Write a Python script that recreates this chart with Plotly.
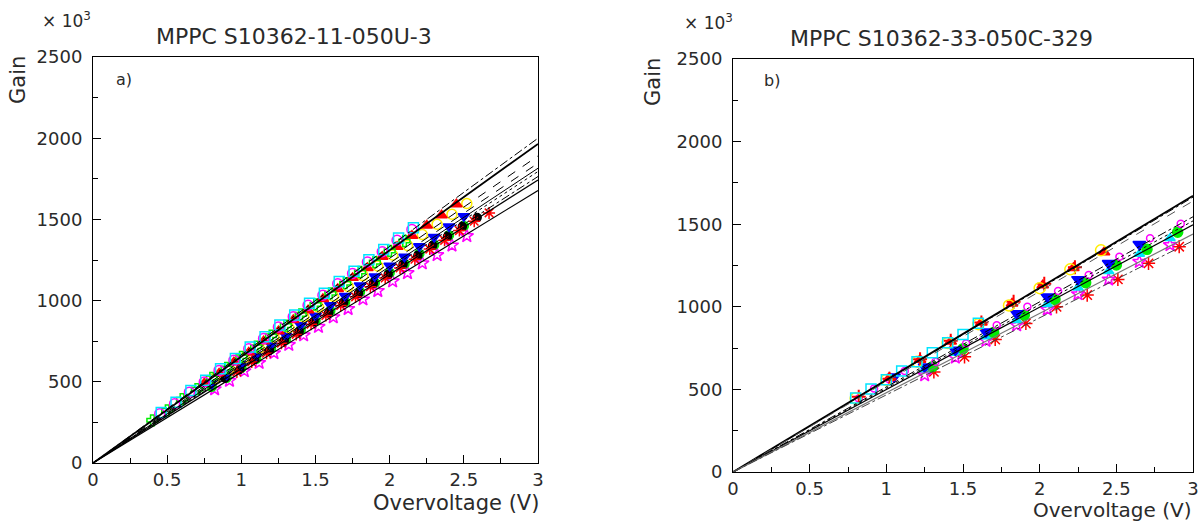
import plotly.graph_objects as go

W, H = 1198, 521
FONT = "DejaVu Sans"
TXT = "#2a2a2a"

# ---------------- data: panel a) MPPC S10362-11-050U-3 ----------------
a_line_end = [2000, 1965, 1891, 1846, 1815, 1795, 1764, 1743, 1678]   # gain (x10^3) of fit lines at 3 V
a_line_dash = ["dashdot", "solid", "dash", "dash", "solid", "dot", "dashdot", "solid", "solid"]
a_line_width = [1, 1.8, 1, 1, 1, 1, 1, 1.2, 1.2]

a_cyan_sq_x = [0.46, 0.56, 0.66, 0.76, 0.86, 0.96, 1.06, 1.16, 1.26, 1.36, 1.46, 1.56, 1.66, 1.76, 1.86, 1.96, 2.06, 2.16]
a_cyan_sq_y = [311, 374, 446, 510, 580, 643, 714, 778, 849, 912, 983, 1046, 1118, 1181, 1252, 1315, 1386, 1449]
a_mag_circ_x = [0.45, 0.55, 0.65, 0.75, 0.85, 0.95, 1.05, 1.15, 1.25, 1.35, 1.45, 1.55, 1.65, 1.75, 1.85, 1.95, 2.05, 2.15]
a_mag_circ_y = [303, 365, 436, 499, 570, 633, 703, 766, 837, 900, 971, 1033, 1104, 1167, 1238, 1301, 1371, 1438]
a_grn_cross_x = [0.40, 0.50, 0.60, 0.70, 0.80, 0.90, 1.00, 1.10, 1.20, 1.30, 1.40, 1.50, 1.60, 1.70, 1.80, 1.90, 2.00, 2.10]
a_grn_cross_y = [263, 324, 393, 455, 524, 585, 654, 716, 784, 846, 915, 976, 1045, 1107, 1176, 1237, 1306, 1367]
a_red_tri_x = [0.75, 0.85, 0.95, 1.05, 1.15, 1.25, 1.35, 1.45, 1.55, 1.65, 1.75, 1.85, 1.95, 2.05, 2.15, 2.25, 2.35, 2.45]
a_red_tri_y = [490, 551, 620, 681, 750, 811, 880, 941, 1010, 1071, 1140, 1201, 1270, 1331, 1400, 1463, 1525, 1594]
a_yel_circ_x = [0.82, 0.92, 1.02, 1.12, 1.22, 1.32, 1.42, 1.52, 1.62, 1.72, 1.82, 1.92, 2.02, 2.12, 2.22, 2.32, 2.42, 2.52]
a_yel_circ_y = [521, 580, 648, 707, 774, 833, 901, 960, 1027, 1087, 1154, 1213, 1281, 1340, 1407, 1470, 1532, 1598]
a_blue_tri_x = [0.80, 0.90, 1.00, 1.10, 1.20, 1.30, 1.40, 1.50, 1.60, 1.70, 1.80, 1.90, 2.00, 2.10, 2.20, 2.30, 2.40, 2.50]
a_blue_tri_y = [487, 543, 608, 665, 729, 786, 850, 907, 972, 1028, 1093, 1149, 1214, 1270, 1335, 1392, 1456, 1519]
a_blk_circ_x = [0.89, 0.99, 1.09, 1.19, 1.29, 1.39, 1.49, 1.59, 1.69, 1.79, 1.89, 1.99, 2.09, 2.19, 2.29, 2.39, 2.49, 2.59]
a_blk_circ_y = [522, 576, 638, 693, 755, 810, 872, 926, 989, 1043, 1106, 1160, 1223, 1277, 1339, 1394, 1456, 1511]
a_red_star_x = [0.97, 1.07, 1.17, 1.27, 1.37, 1.47, 1.57, 1.67, 1.77, 1.87, 1.97, 2.07, 2.17, 2.27, 2.37, 2.47, 2.57, 2.67]
a_red_star_y = [560, 622, 676, 738, 792, 854, 908, 970, 1023, 1085, 1139, 1201, 1255, 1317, 1371, 1431, 1489, 1540]
a_grn_circ_x = [0.80, 0.90, 1.00, 1.10, 1.20, 1.30, 1.40, 1.50, 1.60, 1.70, 1.80, 1.90, 2.00, 2.10, 2.20, 2.30, 2.40, 2.50]
a_grn_circ_y = [470, 525, 587, 642, 704, 759, 821, 876, 938, 993, 1055, 1110, 1172, 1227, 1289, 1344, 1402, 1460]
a_mag_star_x = [0.82, 0.92, 1.02, 1.12, 1.22, 1.32, 1.42, 1.52, 1.62, 1.72, 1.82, 1.92, 2.02, 2.12, 2.22, 2.32, 2.42, 2.52]
a_mag_star_y = [455, 507, 566, 617, 677, 728, 787, 839, 898, 949, 1008, 1060, 1119, 1170, 1230, 1281, 1340, 1398]

# ---------------- data: panel b) MPPC S10362-33-050C-329 ----------------
b_line_end = [1672, 1664, 1640, 1545, 1520, 1497, 1440, 1400]
b_line_dash = ["solid", "dashdot", "dash", "dashdot", "dot", "solid", "solid", "dashdot"]
b_line_color = ["black", "black", "#555555", "black", "black", "black", "#777777", "#444444"]
b_line_width = [1.8, 1, 1, 1, 1, 1.2, 1.2, 1]

b_cyan_sq_x = [0.80, 0.90, 1.00, 1.10, 1.20, 1.30, 1.40, 1.50, 1.60]
b_cyan_sq_y = [448, 503, 558, 612, 668, 722, 782, 833, 900]
b_yel_circ_x = [0.80, 1.00, 1.20, 1.40, 1.60, 1.80, 2.00, 2.20, 2.40]
b_yel_circ_y = [446, 557, 668, 781, 895, 1008, 1113, 1227, 1342]
b_red_tri_x = [1.02, 1.22, 1.42, 1.62, 1.82, 2.02, 2.22, 2.42]
b_red_tri_y = [570, 680, 790, 905, 1020, 1130, 1235, 1330]
b_red_plus_x = [0.82, 1.02, 1.22, 1.42, 1.62, 1.83, 2.03, 2.23]
b_red_plus_y = [455, 565, 683, 795, 905, 1030, 1140, 1240]
b_mag_circ_x = [0.82, 0.92, 1.02, 1.12, 1.32, 1.52, 1.72, 1.92, 2.12, 2.32, 2.52, 2.72, 2.92]
b_mag_circ_y = [445, 505, 560, 612, 667, 778, 889, 1000, 1095, 1192, 1303, 1415, 1502]
b_blue_tri_x = [1.05, 1.25, 1.45, 1.65, 1.85, 2.05, 2.25, 2.45, 2.65]
b_blue_tri_y = [576, 637, 738, 849, 960, 1061, 1166, 1263, 1378]
b_cyan_tri_x = [1.25, 1.45, 1.65, 1.85, 2.05, 2.25, 2.45, 2.65, 2.85]
b_cyan_tri_y = [620, 720, 820, 918, 1015, 1115, 1215, 1320, 1415]
b_grn_circ_x = [1.30, 1.50, 1.70, 1.90, 2.10, 2.30, 2.50, 2.70, 2.90]
b_grn_circ_y = [637, 746, 845, 950, 1045, 1146, 1253, 1348, 1451]
b_mag_star_x = [1.25, 1.45, 1.65, 1.85, 2.05, 2.25, 2.45, 2.65, 2.85]
b_mag_star_y = [586, 693, 795, 889, 984, 1077, 1166, 1273, 1374]
b_red_star_x = [1.31, 1.51, 1.71, 1.91, 2.11, 2.31, 2.51, 2.71, 2.91]
b_red_star_y = [606, 697, 802, 899, 1000, 1071, 1166, 1263, 1364]

x_fit = [0, 3]

fig = go.Figure()


def add_markers(x, y, symbol, color, size, ax, lw=1.5):
    fig.add_trace(go.Scatter(
        x=x, y=y, mode="markers", xaxis="x" + ax, yaxis="y" + ax,
        marker=dict(symbol=symbol, color=color, size=size,
                    line=dict(color=color, width=lw)),
        showlegend=False, hoverinfo="skip"))


# panel a markers
add_markers(a_mag_star_x, a_mag_star_y, "star-open", "#ff00ff", 10, "")
add_markers(a_grn_circ_x, a_grn_circ_y, "circle", "#00ee00", 9, "")
add_markers(a_blk_circ_x, a_blk_circ_y, "circle", "black", 8, "")
add_markers(a_red_star_x, a_red_star_y, "asterisk-open", "#ff0000", 10, "")
add_markers(a_blue_tri_x, a_blue_tri_y, "triangle-down", "#0000ff", 10, "")
add_markers(a_yel_circ_x, a_yel_circ_y, "circle-open", "#ffee00", 10, "")
add_markers(a_red_tri_x, a_red_tri_y, "triangle-up", "#ff0000", 10, "")
add_markers(a_grn_cross_x, a_grn_cross_y, "cross-open", "#00ee00", 9, "")
add_markers(a_mag_circ_x, a_mag_circ_y, "circle-open", "#ff00ff", 10, "")
add_markers(a_cyan_sq_x, a_cyan_sq_y, "square-open", "#00e5ff", 10, "")

# panel a fit lines
for end, dash, w in zip(a_line_end, a_line_dash, a_line_width):
    fig.add_trace(go.Scatter(x=x_fit, y=[0, end], mode="lines", xaxis="x", yaxis="y",
                             line=dict(color="black", width=w, dash=dash),
                             showlegend=False, hoverinfo="skip"))

# panel b markers
add_markers(b_red_star_x, b_red_star_y, "asterisk-open", "#ff0000", 11, "2")
add_markers(b_mag_star_x, b_mag_star_y, "star-open", "#ff00ff", 10, "2")
add_markers(b_cyan_tri_x, b_cyan_tri_y, "triangle-up", "#00e5ff", 9, "2")
add_markers(b_grn_circ_x, b_grn_circ_y, "circle", "#00ee00", 10, "2")
add_markers(b_blue_tri_x, b_blue_tri_y, "triangle-down", "#0000ff", 11, "2")
add_markers(b_mag_circ_x, b_mag_circ_y, "circle-open", "#ff00ff", 7, "2")
add_markers(b_red_tri_x, b_red_tri_y, "triangle-up", "#ff0000", 10, "2")
add_markers(b_red_plus_x, b_red_plus_y, "cross-thin-open", "#ff0000", 10, "2", 2)
add_markers(b_yel_circ_x, b_yel_circ_y, "circle-open", "#ffee00", 11, "2")
add_markers(b_cyan_sq_x, b_cyan_sq_y, "square-open", "#00e5ff", 10, "2")

for end, dash, c, w in zip(b_line_end, b_line_dash, b_line_color, b_line_width):
    fig.add_trace(go.Scatter(x=x_fit, y=[0, end], mode="lines", xaxis="x2", yaxis="y2",
                             line=dict(color=c, width=w, dash=dash),
                             showlegend=False, hoverinfo="skip"))


def px(v):
    return v / W


def py(v):
    return 1 - v / H


tickfont = dict(family=FONT, size=18, color=TXT)
xcommon = dict(range=[0, 3], dtick=0.5, tick0=0, ticks="inside", ticklen=8, tickcolor="black",
               showline=True, linecolor="black", linewidth=1, mirror=True, automargin=False,
               showgrid=False, zeroline=False, tickfont=tickfont, ticklabeloverflow="allow",
               minor=dict(dtick=0.25, ticks="inside", ticklen=5, tickcolor="black", showgrid=False))
ycommon = dict(range=[0, 2500], dtick=500, tick0=0, ticks="inside", ticklen=8, tickcolor="black",
               showline=True, linecolor="black", linewidth=1, mirror=True, automargin=False,
               showgrid=False, zeroline=False, tickfont=tickfont, ticklabelstandoff=6,
               ticklabeloverflow="allow",
               minor=dict(dtick=250, ticks="inside", ticklen=5, tickcolor="black", showgrid=False))

fig.update_layout(
    width=W, height=H,
    margin=dict(l=0, r=0, t=0, b=0, pad=0, autoexpand=False),
    paper_bgcolor="white", plot_bgcolor="white",
    showlegend=False,
    xaxis=dict(domain=[px(93), px(538)], anchor="y", **xcommon),
    yaxis=dict(domain=[py(463), py(57)], anchor="x", **ycommon),
    xaxis2=dict(domain=[px(733), px(1193)], anchor="y2", **xcommon),
    yaxis2=dict(domain=[py(472), py(59)], anchor="x2", **ycommon),
)

anns = []


def ann(text, x, y, size, xanchor="center", yanchor="middle", angle=0):
    anns.append(dict(text=text, x=px(x), y=py(y), xref="paper", yref="paper",
                     xanchor=xanchor, yanchor=yanchor, showarrow=False, textangle=angle,
                     font=dict(family=FONT, size=size, color=TXT)))


ann("MPPC S10362-11-050U-3", 294, 37, 22)
ann("MPPC S10362-33-050C-329", 941, 38, 22)
ann("× 10<sup>3</sup>", 40, 20, 17, xanchor="left")
ann("× 10<sup>3</sup>", 682, 22, 17, xanchor="left")
ann("Gain", 18, 80, 21, angle=-90)
ann("Gain", 653, 82, 21, angle=-90)
ann("Overvoltage (V)", 541, 503, 21, xanchor="right")
ann("Overvoltage (V)", 1193, 510, 20, xanchor="right")
ann("a)", 114, 79, 16, xanchor="left")
ann("b)", 762, 81, 16, xanchor="left")
fig.update_layout(annotations=anns)

fig.write_html("out.html", config={"displayModeBar": False},
               post_script="document.body.style.margin='0px';")
